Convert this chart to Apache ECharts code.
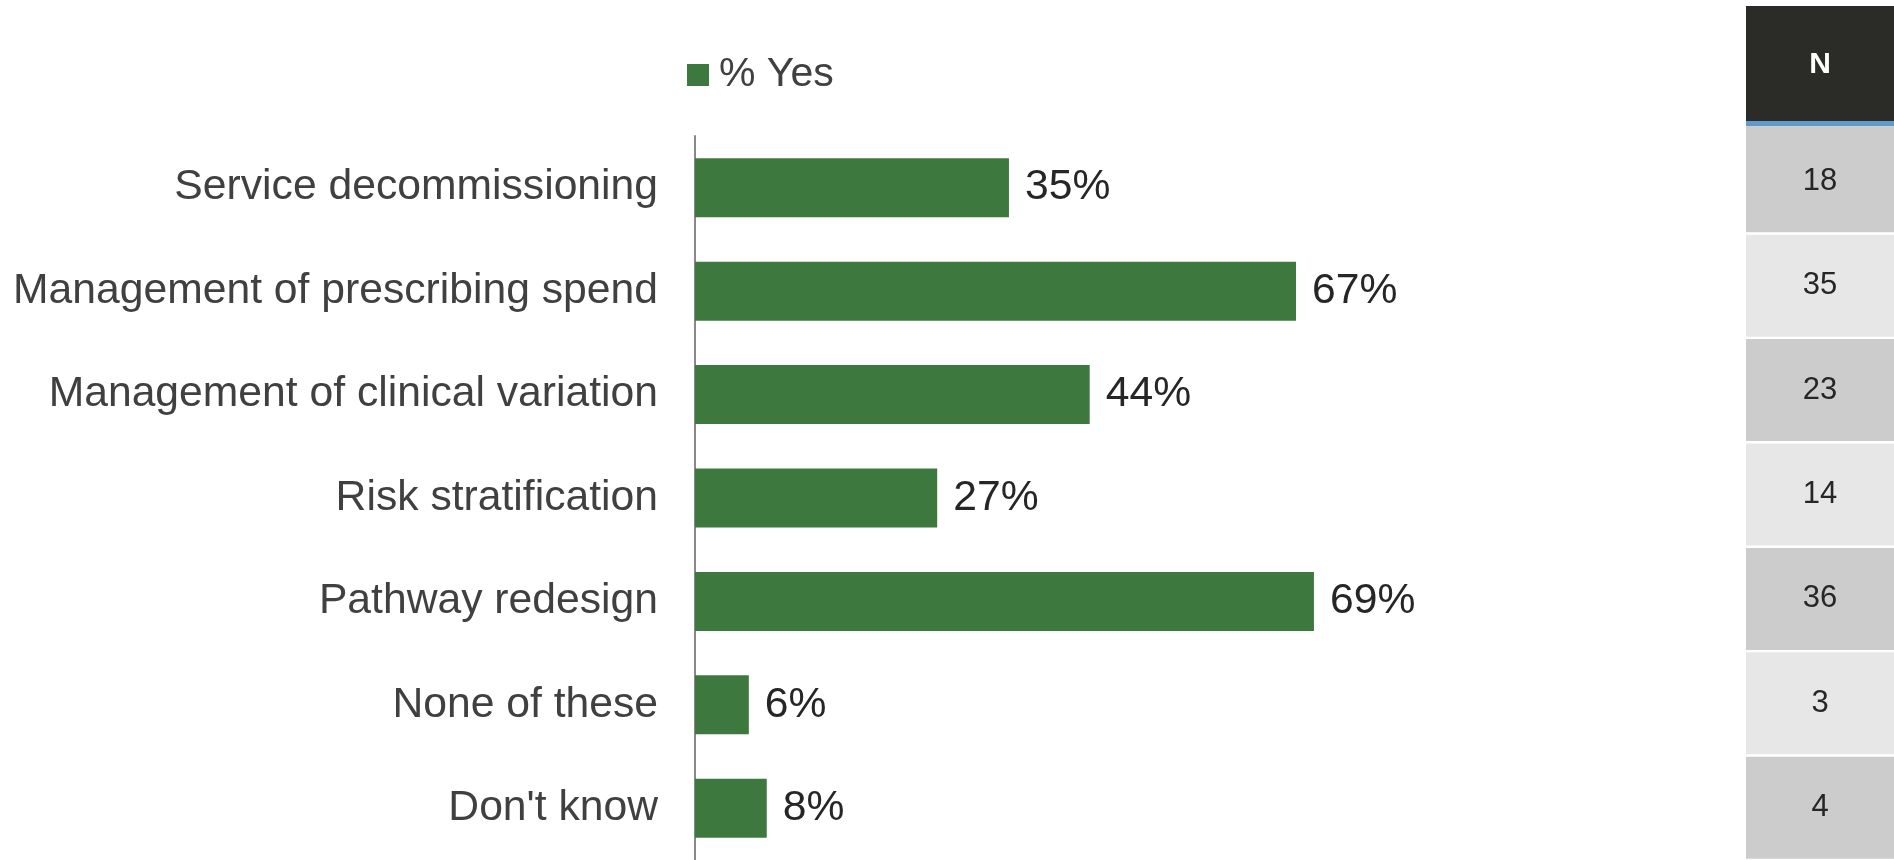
<!DOCTYPE html>
<html>
<head>
<meta charset="utf-8">
<script src="https://cdn.jsdelivr.net/npm/echarts@6/dist/echarts.min.js"></script>
<style>
  html, body { margin: 0; padding: 0; background: #fff; }
  #chart { width: 1894px; height: 860px; }
</style>
</head>
<body>
<div id="chart"></div>
<script>
// chart data
const categories = [
  'Service decommissioning',
  'Management of prescribing spend',
  'Management of clinical variation',
  'Risk stratification',
  'Pathway redesign',
  'None of these',
  "Don't know"
];
const yesPct = [35, 67, 44, 27, 69, 6, 8];
const nValues = [18, 35, 23, 14, 36, 3, 4];
const seriesName = '% Yes';
const tableHeader = 'N';

const green = '#3d783e';
const font = '"Liberation Sans", Arial, sans-serif';

const chart = echarts.init(document.getElementById('chart'));

// table cells: one full-width bar per row, shaded alternately
const cellData = nValues.map((n, i) => ({
  value: 1,
  itemStyle: { color: i % 2 === 0 ? '#cccccc' : '#e7e7e7' }
}));

const option = {
  animation: false,
  backgroundColor: '#ffffff',
  textStyle: { fontFamily: font },
  legend: {
    data: [seriesName],
    left: 687,
    top: 54,
    padding: 0,
    icon: 'rect',
    itemWidth: 22,
    itemHeight: 22,
    itemGap: 0,
    textStyle: {
      fontSize: 41,
      lineHeight: 42,
      color: '#404040',
      fontFamily: font,
      padding: [0, 0, 0, 5]
    }
  },
  grid: [
    { left: 695, top: 136, right: 302, bottom: 0 },
    { left: 1746, top: 129, width: 148, height: 737 }
  ],
  xAxis: [
    { gridIndex: 0, type: 'value', min: 0, max: 100, show: false },
    { gridIndex: 1, type: 'value', min: 0, max: 1, show: false }
  ],
  yAxis: [
    {
      gridIndex: 0,
      type: 'category',
      data: categories,
      inverse: true,
      axisLine: { show: true, lineStyle: { color: '#888888', width: 2 } },
      axisTick: { show: false },
      splitLine: { show: false },
      axisLabel: {
        color: '#404040',
        fontSize: 42.67,
        fontFamily: font,
        margin: 37
      }
    },
    {
      gridIndex: 1,
      type: 'category',
      data: categories,
      inverse: true,
      show: false
    }
  ],
  series: [
    {
      name: seriesName,
      type: 'bar',
      xAxisIndex: 0,
      yAxisIndex: 0,
      data: yesPct,
      barWidth: 59,
      itemStyle: { color: green },
      label: {
        show: true,
        position: 'right',
        distance: 16,
        formatter: '{c}%',
        fontSize: 42.67,
        color: '#262626',
        fontFamily: font,
        padding: [2, 0, 0, 0]
      }
    },
    {
      name: 'N',
      type: 'bar',
      xAxisIndex: 1,
      yAxisIndex: 1,
      data: cellData,
      barWidth: 102,
      silent: true,
      label: {
        show: true,
        position: 'inside',
        formatter: p => String(nValues[p.dataIndex]),
        fontSize: 31,
        color: '#262626',
        fontFamily: font
      }
    }
  ],
  graphic: [
    {
      type: 'rect',
      shape: { x: 1746, y: 6, width: 148, height: 116 },
      style: { fill: '#2b2b27' }
    },
    {
      type: 'rect',
      shape: { x: 1746, y: 121, width: 148, height: 5 },
      style: { fill: '#619bcb' }
    },
    {
      // fill between header underline and first cell
      type: 'rect',
      shape: { x: 1746, y: 126, width: 148, height: 6 },
      style: { fill: '#cccccc' }
    },
    {
      type: 'text',
      x: 1820,
      y: 65,
      style: {
        text: tableHeader,
        fill: '#ffffff',
        font: 'bold 30px ' + font,
        align: 'center',
        verticalAlign: 'middle'
      }
    }
  ]
};

chart.setOption(option);
window.addEventListener('resize', () => chart.resize());
</script>
</body>
</html>
